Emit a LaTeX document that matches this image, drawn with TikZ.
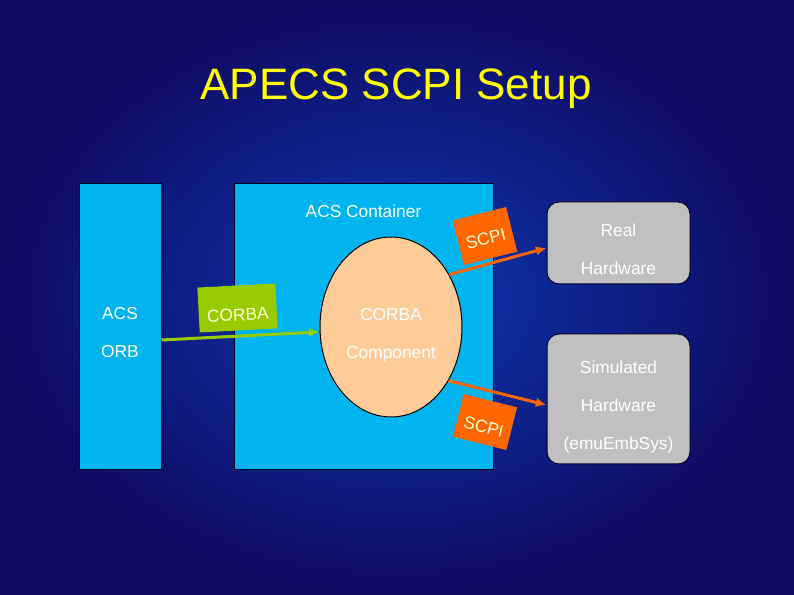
\documentclass[tikz,border=0pt]{standalone}
\usepackage{fontspec}
\setmainfont{Liberation Sans}
\usetikzlibrary{shapes.geometric,arrows.meta}

\definecolor{slideLight}{RGB}{12,56,178}
\definecolor{slideDark}{RGB}{16,10,98}
\definecolor{titleYellow}{RGB}{255,255,0}
\definecolor{acsCyan}{RGB}{0,180,240}
\definecolor{compPeach}{RGB}{255,204,153}
\definecolor{corbaGreen}{RGB}{153,204,0}
\definecolor{scpiOrange}{RGB}{255,102,0}
\definecolor{hwGrey}{RGB}{192,192,192}
\definecolor{tagText}{RGB}{255,255,215}

\tikzset{
    txt/.style={text=white, font=\fontsize{13}{28.5}\selectfont, inner sep=0pt},
    blockbox/.style={draw=black!85!blue, fill=acsCyan, line width=0.75pt, inner sep=0pt},
    hwbox/.style={draw=black!85!blue, fill=hwGrey, line width=0.75pt, rounded corners=9pt,
        minimum width=107.25pt, inner sep=0pt},
    tagbox/.style={text=tagText, font=\fontsize{13}{15}\selectfont, inner sep=0pt, text depth=0pt},
    link/.style={->, line width=2.25pt},
}

\begin{document}
\begin{tikzpicture}[>={Latex[length=8pt,width=7pt]}, x=0.75pt, y=-0.75pt]
    \shade[inner color=slideLight, outer color=slideDark] (0,0) rectangle (794,595);

    \node[font=\fontsize{33}{40}\selectfont, text=titleYellow, anchor=base, inner sep=0pt] (title) at (396,100) {APECS SCPI Setup};

    % ORB and container
    \node[blockbox, minimum width=61.5pt, minimum height=214.5pt] (orb) at (120,327) {};
    \node[blockbox, minimum width=194.25pt, minimum height=214.5pt] (container) at (363.5,327) {};
    \node[txt, align=center] (orbTxt) at (120,333) {ACS\\ORB};
    \node[txt, anchor=base] (containerTxt) at (363.5,218) {ACS Container};

    \node[tagbox, fill=corbaGreen, text height=19.5pt, minimum width=58.5pt, minimum height=33.75pt, rotate=3] (corbaTag) at (237.5,308) {CORBA};

    \node[ellipse, draw=black, fill=compPeach, line width=0.75pt, inner sep=0pt,
        minimum width=106.5pt, minimum height=135pt] (comp) at (391,327) {};
    \node[txt, align=center] (compTxt) at (391,335) {CORBA\\Component};

    % hardware
    \node[hwbox, minimum height=61.5pt] (real) at (618.5,243) {};
    \node[txt, align=center] (realTxt) at (618.5,249) {Real\\Hardware};
    \node[hwbox, minimum height=97.5pt] (sim) at (618.5,399) {};
    \node[txt, align=center] (simTxt) at (618.5,407) {Simulated\\Hardware\\(emuEmbSys)};

    \node[tagbox, fill=scpiOrange, text height=13.3pt, minimum width=41.25pt, minimum height=34.5pt, rotate=14] (scpiUp) at (485,236) {SCPI};
    \node[tagbox, fill=scpiOrange, text height=16.8pt, minimum width=41.25pt, minimum height=33pt, rotate=-14] (scpiLow) at (485,422) {SCPI};

    \draw[link, corbaGreen] ([yshift=-9.75pt]orb.east) -- (comp.184);
    \draw[link, scpiOrange] (comp.42) -- ([yshift=-3.75pt]real.west);
    \draw[link, scpiOrange] (comp.-43) -- ([yshift=-4.5pt]sim.west);
\end{tikzpicture}
\end{document}
